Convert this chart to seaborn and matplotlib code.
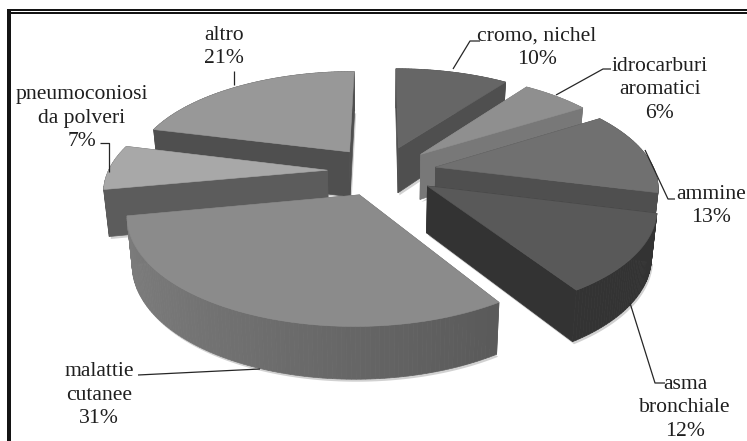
import numpy as np
import matplotlib
matplotlib.use("Agg")
import matplotlib.pyplot as plt
from matplotlib.patches import Polygon, Rectangle
import seaborn as sns

# Occupational disease shares, clockwise from twelve o'clock
categories = ["cromo, nichel", "idrocarburi\naromatici", "ammine", "asma\nbronchiale",
              "malattie\ncutanee", "pneumoconiosi\nda polveri", "altro"]
shares = [10, 6, 13, 12, 31, 7, 21]

top_greys = [0.40, 0.56, 0.44, 0.35, 0.545, 0.66, 0.595]
wall_greys = [0.31, 0.47, 0.31, 0.20, 0.40, 0.36, 0.31]
rim_fade = [0, 0, 0, 0, 0.09, 0, 0]

# Back slices first on each side so nearer ones paint over them
paint_order = [0, 1, 2, 3, 6, 5, 4]

W, H = 747, 441
CX, CY = 382, 171
RX, RY = 219, 100
PERSPECTIVE = 0.17
EXPLODE = 0.25
DEPTH = 46

sns.set_theme(style="white")
plt.rcParams["font.family"] = ["Liberation Serif", "DejaVu Serif"]

fig = plt.figure(figsize=(W / 100, H / 100), dpi=100)
ax = fig.add_axes([0, 0, 1, 1])
ax.set_xlim(0, W)
ax.set_ylim(H, 0)
ax.axis("off")


def project(x, y, drop=False):
    """Map disc coordinates (radius 1, y towards the back) onto the canvas."""
    x, y = np.asarray(x, float), np.asarray(y, float)
    s = 1 / (1 + PERSPECTIVE * y)
    px = CX + RX * x * s
    py = CY - RY * y * s
    if drop:
        px = CX + (px - CX) * 0.98
        py = py + DEPTH * (1 - 0.12 * y)
    return np.column_stack([px, py])


def grey(v):
    v = float(np.clip(v, 0, 1))
    return (v, v, v)


def draw_slice(i, start, stop, layer):
    mid = np.radians((start + stop) / 2)
    ox, oy = EXPLODE * np.sin(mid), EXPLODE * np.cos(mid)
    theta = np.radians(np.linspace(start, stop, max(int(stop - start), 2) + 1))
    x = ox + np.sin(theta)
    y = oy + np.cos(theta)
    top = project(np.r_[ox, x], np.r_[oy, y])
    low = project(np.r_[ox, x], np.r_[oy, y], drop=True)

    # Soft contact shadow under the slab
    ax.add_patch(Polygon(low + [1.5, 2.5], closed=True, fc="0.82", ec="none", zorder=layer))

    faces = [
        ((oy + y[0]) / 2, np.vstack([top[0], top[1], low[1], low[0]]), wall_greys[i]),
        ((oy + y[-1]) / 2, np.vstack([top[0], top[-1], low[-1], low[0]]), wall_greys[i]),
    ]
    for k in range(1, len(top) - 1):
        shade = wall_greys[i] - rim_fade[i] * np.sin(theta[k - 1])
        faces.append((y[k - 1], np.vstack([top[k], top[k + 1], low[k + 1], low[k]]), shade))
    for _, pts, g in sorted(faces, key=lambda f: -f[0]):
        ax.add_patch(Polygon(pts, closed=True, fc=grey(g), ec=grey(g), lw=0.5, zorder=layer + 1))
    ax.add_patch(Polygon(top, closed=True, fc=grey(top_greys[i]), ec=grey(top_greys[i]),
                         lw=0.4, zorder=layer + 2))


edges = np.r_[0, np.cumsum(shares)] * 3.6
for rank, i in enumerate(paint_order):
    draw_slice(i, edges[i], edges[i + 1], rank * 10)

# Slice labels with their leader lines
label_xy = [(537, 48), (660, 90), (711, 206), (685, 408), (99, 395), (82, 118), (224, 47)]
for name, share, (lx, ly) in zip(categories, shares, label_xy):
    ax.text(lx, ly, f"{name}\n{share}%", ha="center", va="center", fontsize=15.6,
            linespacing=1.3, color="0.12", zorder=200)

leaders = [
    ([480, 470, 453], [41, 41, 69]),
    ([611, 603, 556], [69, 69, 95]),
    ([675, 668, 645], [199, 199, 150]),
    ([665, 655, 630], [383, 383, 303]),
    ([138, 260], [375, 369]),
    ([100, 109, 109], [143, 143, 172]),
    ([234, 234], [71, 85]),
]
for lxs, lys in leaders:
    ax.plot(lxs, lys, color="0.15", lw=0.9, zorder=150, solid_capstyle="butt")

# Page frame: double rule across the top, heavy rule down the left
for fx, fy, fw, fh in [(7, 9, W - 7, 2), (7, 12, W - 7, 1.8), (7, 9, 4, H - 9)]:
    ax.add_patch(Rectangle((fx, fy), fw, fh, fc="0.08", ec="none", zorder=300))

fig.savefig("out.png", dpi=100, facecolor="white")
